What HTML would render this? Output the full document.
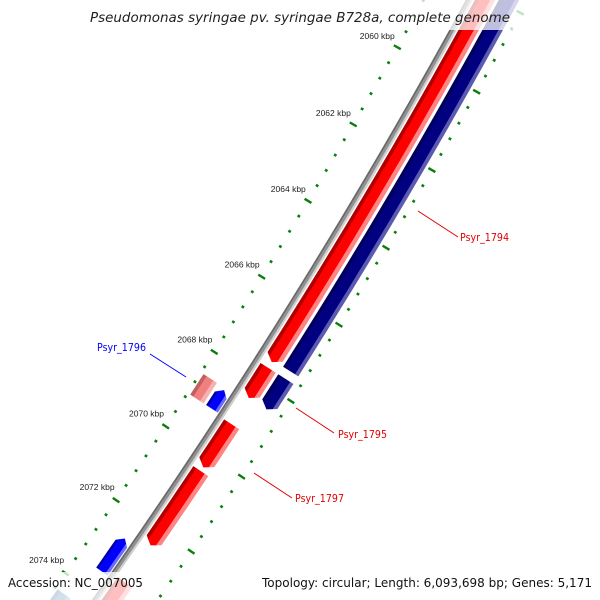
<!DOCTYPE html>
<html><head><meta charset="utf-8"><style>
html,body{margin:0;padding:0;background:#fff;width:600px;height:600px;overflow:hidden;}
svg{display:block;overflow:hidden;font-family:"DejaVu Sans","Liberation Sans",sans-serif;}
</style></head><body>
<svg id="map" width="600" height="600" viewBox="0 0 600 600" xmlns="http://www.w3.org/2000/svg">
<defs id="defs"></defs>
<g id="ticks"></g>
<g id="backbone"></g>
<g id="genes"></g>
<g id="labels"></g>
<rect x="0" y="0" width="600" height="30" fill="#fff" opacity="0.75"/>
<text x="300" y="22" text-anchor="middle" font-size="13" font-style="italic" fill="#222" textLength="420" lengthAdjust="spacingAndGlyphs">Pseudomonas syringae pv. syringae B728a, complete genome</text>
<rect x="0" y="572" width="150" height="28" fill="#fff" opacity="0.75"/>
<text x="8" y="587" font-size="12" fill="#111" textLength="135" lengthAdjust="spacingAndGlyphs">Accession: NC_007005</text>
<text x="592" y="587" text-anchor="end" font-size="12" fill="#111" textLength="330" lengthAdjust="spacingAndGlyphs">Topology: circular; Length: 6,093,698 bp; Genes: 5,171</text>
</svg>
<script>
// gene data (kbp)
const geneNames = ["Psyr_1794-f","Psyr_1794-r","Psyr_1795-f","Psyr_1795-r","Psyr_1796-a","Psyr_1796-b","Psyr_1797","gene-next-f","gene-next-f2","gene-blue-left","gene-steel"];
const geneStarts = [2054, 2054, 2067.65, 2067.65, 2068.55, 2068.6, 2069.15, 2070.4, 2073.4, 2072.6, 2074.4];
const geneEnds   = [2067.5, 2067.45, 2068.45, 2068.45, 2069.1, 2069.1, 2070.3, 2072.4, 2077, 2073.5, 2077];
const geneSlots  = ["fwd","rev","fwd","rev","pink","blue","fwd","fwd","fwd","blue","pink"];
const geneArrows = [1, 0, 1, 1, 0, -1, 1, 1, 1, -1, 0];
// tick data
const tickStart = 2054.8, tickEnd = 2076, tickStep = 0.4, majorEvery = 2;
// labels
const labelTexts = ["Psyr_1794","Psyr_1795","Psyr_1797","Psyr_1796"];

const CX=-4901, CY=-2929, A0=0.5118, DA=0.007313;
function ang(k){return A0+(k-2060)*DA;}
function pt(k,r){const a=ang(k);return [CX+r*Math.cos(a), CY+r*Math.sin(a)];}
const NS="http://www.w3.org/2000/svg";
function mk(tag,attrs,parent){const e=document.createElementNS(NS,tag);for(const k in attrs)e.setAttribute(k,attrs[k]);parent.appendChild(e);return e;}
function arcPts(k1,k2,r){const n=Math.max(2,Math.ceil(Math.abs(k2-k1)*4));const out=[];for(let i=0;i<=n;i++){out.push(pt(k1+(k2-k1)*i/n,r));}return out;}
function poly(pts){return pts.map(p=>p[0].toFixed(2)+","+p[1].toFixed(2)).join(" ");}

const slotDef={
 fwd:{r0:6122,r1:6140,cols:["#b00000","#ff0000","#ff8585"],w:[0.22,0.55,0.23]},
 rev:{r0:6143,r1:6161,cols:["#00005a","#000080","#5a5ab0"],w:[0.2,0.6,0.2]},
 pink:{r0:6080,r1:6096,cols:["#c06060","#f08080","#f7b0b0"],w:[0.25,0.5,0.25]},
 blue:{r0:6099,r1:6113,cols:["#0000a8","#0000ff","#6a6aff"],w:[0.2,0.6,0.2]}
};
const defs=document.getElementById("defs");
const gTicks=document.getElementById("ticks");
const gBack=document.getElementById("backbone");
const gGenes=document.getElementById("genes");
const gLab=document.getElementById("labels");

// backbone
[["#6a6a6a",6114,6116],["#909090",6116,6118.5],["#cfcfcf",6118.5,6120.5]].forEach(b=>{
 const p=mk("polygon",{points:poly(arcPts(2050,2078,b[2]).concat(arcPts(2078,2050,b[1]))),fill:b[0]},gBack);
 
 
});

// genes
for(let i=0;i<geneNames.length;i++){
 const s=geneStarts[i], e=geneEnds[i], sd=slotDef[geneSlots[i]], ah=0.14;
 const rm=(sd.r0+sd.r1)/2;
 let pts;
 if(geneArrows[i]===1){
  pts=arcPts(s,e-ah,sd.r1).concat([pt(e,rm)]).concat(arcPts(e-ah,s,sd.r0));
 } else if(geneArrows[i]===-1){
  pts=[pt(s,rm)].concat(arcPts(s+ah,e,sd.r1)).concat(arcPts(e,s+ah,sd.r0));
 } else {
  pts=arcPts(s,e,sd.r1).concat(arcPts(e,s,sd.r0));
 }
 const cp=mk("clipPath",{id:"cp"+i},defs);
 mk("polygon",{points:poly(pts)},cp);
 const g=mk("g",{"clip-path":"url(#cp"+i+")"},gGenes);
 
 
 let r=sd.r0;
 for(let j=0;j<3;j++){
  const r2=r+(sd.r1-sd.r0)*sd.w[j];
  const col = geneNames[i]==="gene-steel" ? ["#36658f","#4682b4","#7aa6cc"][j] : sd.cols[j];
  mk("polygon",{points:poly(arcPts(s-0.5,e+0.5,r2+0.3).concat(arcPts(e+0.5,s-0.5,r-0.3))),fill:col},g);
  r=r2;
 }
}

// ticks
const nT=Math.round((tickEnd-tickStart)/tickStep);
for(let i=0;i<=nT;i++){
 const k=+(tickStart+i*tickStep).toFixed(2);
 const major=Math.abs(k/majorEvery-Math.round(k/majorEvery))<1e-6;
 [6077,6168].forEach(rr=>{
  const hl=major?4:1.4;
  const a=pt(k,rr-hl),b=pt(k,rr+hl);
  const ln=mk("line",{x1:a[0],y1:a[1],x2:b[0],y2:b[1],stroke:"#0a800a","stroke-width":major?2.4:2.6},gTicks);
  
  
 });
 if(major){
  const p=pt(k,6054);
  const t=mk("text",{x:p[0],y:p[1]+3,"text-anchor":"middle","font-size":"8.5",fill:"#222","font-family":"Liberation Sans, sans-serif"},gTicks);
  t.textContent=k+" kbp";
  
  
 }
}

// gene labels
const labelDefs=[
 {x1:418,y1:211,x2:458,y2:237,tx:460,ty:241,col:"#e00000",anchor:"start"},
 {x1:296,y1:408,x2:334,y2:433,tx:338,ty:438,col:"#e00000",anchor:"start"},
 {x1:254,y1:473,x2:292,y2:498,tx:295,ty:502,col:"#e00000",anchor:"start"},
 {x1:186,y1:377,x2:150,y2:354,tx:146,ty:351,col:"#0000ff",anchor:"end"}
];
labelDefs.forEach((d,i)=>{
 const ln=mk("line",{x1:d.x1,y1:d.y1,x2:d.x2,y2:d.y2,stroke:d.col,"stroke-width":1},gLab);
 
 
 const t=mk("text",{x:d.tx,y:d.ty,"text-anchor":d.anchor,"font-size":"10.5",fill:d.col,textLength:49,lengthAdjust:"spacingAndGlyphs"},gLab);
 t.textContent=labelTexts[i];
 
 
});
</script>
</body></html>
